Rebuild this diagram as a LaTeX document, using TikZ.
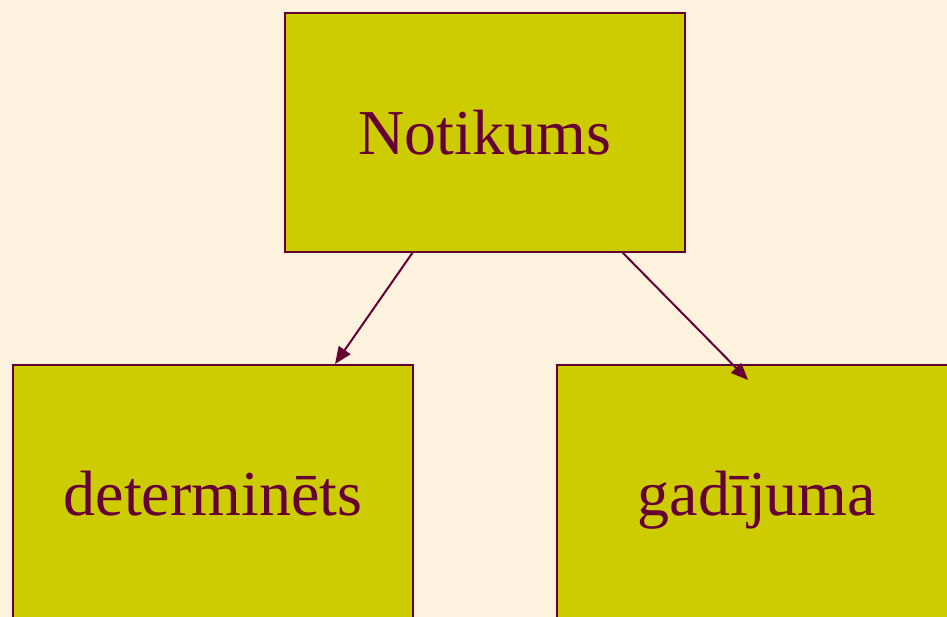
\documentclass[tikz,border=0pt]{standalone}
\usepackage{fontspec}
\setmainfont{Liberation Serif}
\usetikzlibrary{arrows.meta}
\definecolor{paper}{HTML}{FDF2DE}
\definecolor{olive}{HTML}{CCCC00}
\definecolor{wine}{HTML}{660033}
\begin{document}
\begin{tikzpicture}[
        x=1pt, y=-1pt,
        box/.style={rectangle, draw=wine, fill=olive, text=wine, line width=2pt, minimum width=400pt, font=\fontsize{64}{76}\selectfont, text height=43.5pt, text depth=0pt, inner sep=0pt},
        arrow/.style={-{Triangle[length=17pt, width=14pt]}, wine, line width=2pt}
    ]
        % Background
        \fill[paper] (0,0) rectangle (947,617);
        \useasboundingbox (0,0) rectangle (947,617);
        \clip (0,0) rectangle (947,617);

        % Event
        \node[box, minimum height=239pt] (event) at (485,132.5) {Notikums};

        % Kinds
        \node[box, minimum height=257pt] (determined) at (213,493.5) {determinēts};
        \node[box, minimum height=257pt] (random) at (757,493.5) {gadījuma};

        % Arrows
        \coordinate (leftstart) at (413,252);
        \coordinate (leftend) at (335,364);
        \coordinate (rightstart) at (622,252);
        \coordinate (rightend) at (748,380);
        \draw[arrow] (leftstart) -- (leftend);
        \draw[arrow] (rightstart) -- (rightend);
    \end{tikzpicture}
\end{document}
